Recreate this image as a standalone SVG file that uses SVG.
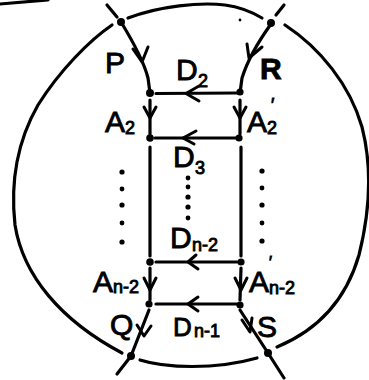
<svg xmlns="http://www.w3.org/2000/svg" width="369" height="380" viewBox="0 0 369 380">
<style>
.ln{fill:none;stroke:#000;stroke-width:3.2;stroke-linecap:round;stroke-linejoin:round}
.ar{fill:none;stroke:#000;stroke-width:3;stroke-linecap:round;stroke-linejoin:round}
.dt{fill:#000}
.t{font-family:"Liberation Sans",Arial,sans-serif;fill:#000;stroke:#000;stroke-width:0.9}
.b{font-size:30px}
.s{font-size:18px}
</style>
<rect width="369" height="380" fill="#fff"/>
<path class="ln" d="M0,4 L48,0" stroke-width="4"/>
<circle cx="240" cy="20" r="1.4" class="dt"/>
<g id="boundary">
<path class="ln" d="M112,25 C90,40 60,70 38,105 C18,140 10,180 15,225 C23,275 60,320 122,353"/>
<path class="ln" d="M285,25 C320,48 350,85 362,127 C373,170 369,215 359,255 C346,300 318,330 277,347"/>
<path class="ln" d="M128,18 C160,6 200,2 225,5 C240,7 252,12 262,18"/>
<path class="ln" d="M140,360 C165,368 215,370 257,358"/>
</g>
<g id="connectors">
<path class="ln" d="M107,5 L117,17"/>
<path class="ln" d="M284,5 L276,15"/>
<path class="ln" d="M121,22 C132,40 144,62 148,78 L150,93"/>
<path class="ln" d="M271,24 C258,42 247,62 242,78 L240,93"/>
<path class="ln" d="M156,93.5 L238,93"/>
<path class="ln" d="M150,100 L150,134"/>
<path class="ln" d="M240,100 L240,134"/>
<path class="ln" d="M155,138 L236,138"/>
<path class="ln" d="M150,147 L150,256"/>
<path class="ln" d="M241,147 L241,256"/>
<path class="ln" d="M156,262 L237,262"/>
<path class="ln" d="M150,268 L150,300"/>
<path class="ln" d="M241,268 L240,300"/>
<path class="ln" d="M156,304 L237,304"/>
<path class="ln" d="M149,310 L131,356"/>
<path class="ln" d="M131,356 L117,374"/>
<path class="ln" d="M240,310 L268,353"/>
<path class="ln" d="M268,353 L284,378"/>
<path class="ar" d="M133,49 L142,62 L148,47"/>
<path class="ar" d="M247,44 L249,58 L262,47"/>
<path class="ar" d="M199,86 L186,93.5 L199,101"/>
<path class="ar" d="M144,107 L150,118 L156,107"/>
<path class="ar" d="M234,107 L240,118 L246,107"/>
<path class="ar" d="M196,131 L183,138 L194,144"/>
<path class="ar" d="M196,255 L188,262 L198,269"/>
<path class="ar" d="M144,278 L150,290 L156,278"/>
<path class="ar" d="M235,278 L241,290 L247,278"/>
<path class="ar" d="M198,297 L188,304 L198,311"/>
<path class="ar" d="M137,325 L144,336 L151,326"/>
<path class="ar" d="M242,320 L250,332 L252,318"/>
</g>
<g id="dots">
<circle class="dt" cx="122" cy="172" r="2.6"/><circle class="dt" cx="122" cy="189" r="2.4"/><circle class="dt" cx="122" cy="205" r="2.6"/><circle class="dt" cx="122" cy="223" r="2.4"/><circle class="dt" cx="122" cy="242" r="2.6"/>
<circle class="dt" cx="188" cy="178" r="2.4"/><circle class="dt" cx="188" cy="187" r="2.4"/><circle class="dt" cx="188" cy="197" r="2.6"/><circle class="dt" cx="188" cy="207" r="2.6"/><circle class="dt" cx="188" cy="218" r="2.4"/>
<circle class="dt" cx="262" cy="171" r="2.6"/><circle class="dt" cx="262" cy="188" r="2.4"/><circle class="dt" cx="262" cy="205" r="2.6"/><circle class="dt" cx="262" cy="223" r="2.4"/><circle class="dt" cx="262" cy="241" r="2.6"/>
</g>
<g id="v-tl"><circle class="dt" cx="121" cy="22" r="4"/></g>
<g id="v-tr"><circle class="dt" cx="271" cy="23" r="4"/></g>
<g id="v-l1"><circle class="dt" cx="150" cy="93" r="4"/></g>
<g id="v-r1"><circle class="dt" cx="240" cy="92" r="3.6"/></g>
<g id="v-l2"><circle class="dt" cx="150" cy="138" r="3.8"/></g>
<g id="v-r2"><circle class="dt" cx="239" cy="138" r="3.6"/></g>
<g id="v-l3"><circle class="dt" cx="150" cy="262" r="3.8"/></g>
<g id="v-r3"><circle class="dt" cx="241" cy="262" r="3.6"/></g>
<g id="v-l4"><circle class="dt" cx="149" cy="304" r="3.6"/></g>
<g id="v-r4"><circle class="dt" cx="240" cy="305" r="3.6"/></g>
<g id="v-bl"><circle class="dt" cx="131" cy="356" r="4"/></g>
<g id="v-br"><circle class="dt" cx="268" cy="353" r="4"/></g>
<g id="labels">
<text class="t b" x="105" y="73">P</text>
<text class="t b" x="260" y="79" font-weight="bold">R</text>
<text class="t b" x="176" y="80">D</text><text class="t s" x="198" y="87">2</text>
<text class="t b" x="105" y="132">A</text><text class="t s" x="125" y="134">2</text>
<text class="t b" x="247" y="132">A</text><text class="t s" x="267" y="134">2</text><text class="t s" x="271" y="111">′</text>
<text class="t b" x="173" y="167">D</text><text class="t s" x="195" y="174">3</text>
<text class="t b" x="170" y="248">D</text><text class="t s" x="192" y="251">n-2</text>
<text class="t b" x="93" y="292">A</text><text class="t s" x="113" y="293">n-2</text>
<text class="t b" x="249" y="292">A</text><text class="t s" x="269" y="294">n-2</text><text class="t" font-size="16" x="269" y="268">′</text>
<text class="t b" x="110" y="335">Q</text>
<text class="t" x="173" y="336" font-size="26">D</text><text class="t s" x="194" y="337">n-1</text>
<text class="t b" x="257" y="337">S</text>
</g>
</svg>
